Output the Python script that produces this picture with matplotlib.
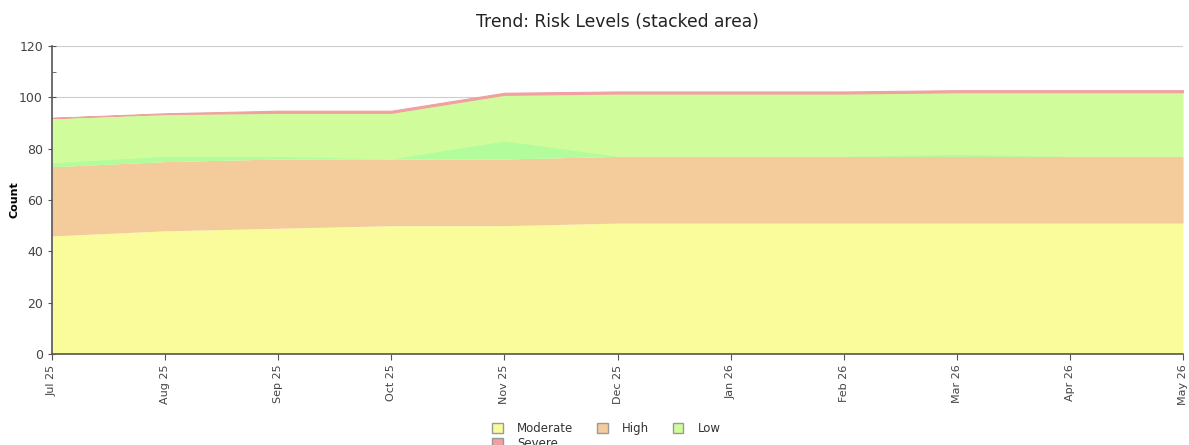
import numpy as np
import matplotlib
matplotlib.use("Agg")
import matplotlib.pyplot as plt
from matplotlib.patches import Patch

months = ["Jul 25", "Aug 25", "Sep 25", "Oct 25", "Nov 25", "Dec 25",
          "Jan 26", "Feb 26", "Mar 26", "Apr 26", "May 26"]
moderate = [46, 48, 49, 50, 50, 51, 51, 51, 51, 51, 51]
high = [27, 27, 27, 26, 26, 26, 26, 26, 26, 26, 26]
low = [19, 18.5, 18, 18, 25, 24.5, 24.5, 24.5, 25, 25, 25]
severe = [0, 0.3, 0.8, 0.8, 0.8, 0.8, 0.8, 0.8, 0.8, 0.8, 0.8]
# lighter band that shows above High in the original render
low_extra = [1.5, 2, 1, 0, 7, 0, 0, 0, 0.8, 0, 0]

x = np.arange(len(months))
m = np.array(moderate)
h = m + np.array(high)
l = h + np.array(low)
s = l + np.array(severe)
ex = h + np.array(low_extra)

c_mod = "#fafc9c"
c_high = "#f4cc9c"
c_low = "#d0fc9c"
c_low2 = "#b2fc9c"
c_sev = "#f0a0a0"

fig = plt.figure(figsize=(11.89, 4.45), dpi=100)
ax = fig.add_axes([0.0437, 0.2045, 0.9513, 0.692])

ax.yaxis.grid(True, color="#cccccc", linewidth=0.8)
ax.set_axisbelow(True)

ax.fill_between(x, 0, m, color=c_mod, linewidth=0)
ax.fill_between(x, m, h, color=c_high, linewidth=0)
ax.fill_between(x, h, l, color=c_low, linewidth=0)
ax.fill_between(x, h, ex, color=c_low2, linewidth=0)
ax.fill_between(x, l, s, color=c_sev, linewidth=0.8, edgecolor=c_sev)

ax.set_xlim(0, len(months) - 1)
ax.set_ylim(0, 120)
ax.set_yticks(np.arange(0, 121, 20))
ax.set_yticks(np.arange(10, 120, 20), minor=True)
ax.set_xticks(x)
ax.set_xticklabels(months, rotation=90, fontsize=8, color="#444444")
ax.tick_params(axis="y", which="major", labelsize=9, labelcolor="#444444",
               direction="inout", length=6, color="#555555")
ax.tick_params(axis="y", which="minor", direction="in", length=3, color="#555555")
ax.tick_params(axis="x", direction="out", length=4, color="#555555")

for sp in ["top", "right"]:
    ax.spines[sp].set_visible(False)
for sp in ["left", "bottom"]:
    ax.spines[sp].set_color("#555555")
    ax.spines[sp].set_linewidth(1.2)

ax.set_ylabel("Count", fontsize=8, fontweight="bold")
ax.yaxis.set_label_coords(-0.029, 0.5)
ax.set_title("Trend: Risk Levels (stacked area)", fontsize=12.3,
             color="#222222", pad=14)

# row-major order: Moderate, High, Low / Severe
handles = [Patch(facecolor=c_mod, edgecolor="#999999", label="Moderate"),
           Patch(facecolor=c_sev, edgecolor="#999999", label="Severe"),
           Patch(facecolor=c_high, edgecolor="#999999", label="High"),
           Patch(facecolor=c_low, edgecolor="#999999", label="Low")]
leg = fig.legend(handles=handles, loc="upper center", ncol=3,
                 bbox_to_anchor=(0.51, 0.063), frameon=False,
                 prop={"size": 8.5},
                 handlelength=0.9, handleheight=0.9, handletextpad=1.2,
                 columnspacing=2.0, labelspacing=0.2, borderaxespad=0)
for t in leg.get_texts():
    t.set_color("#333333")

fig.savefig("out.png", dpi=100)
